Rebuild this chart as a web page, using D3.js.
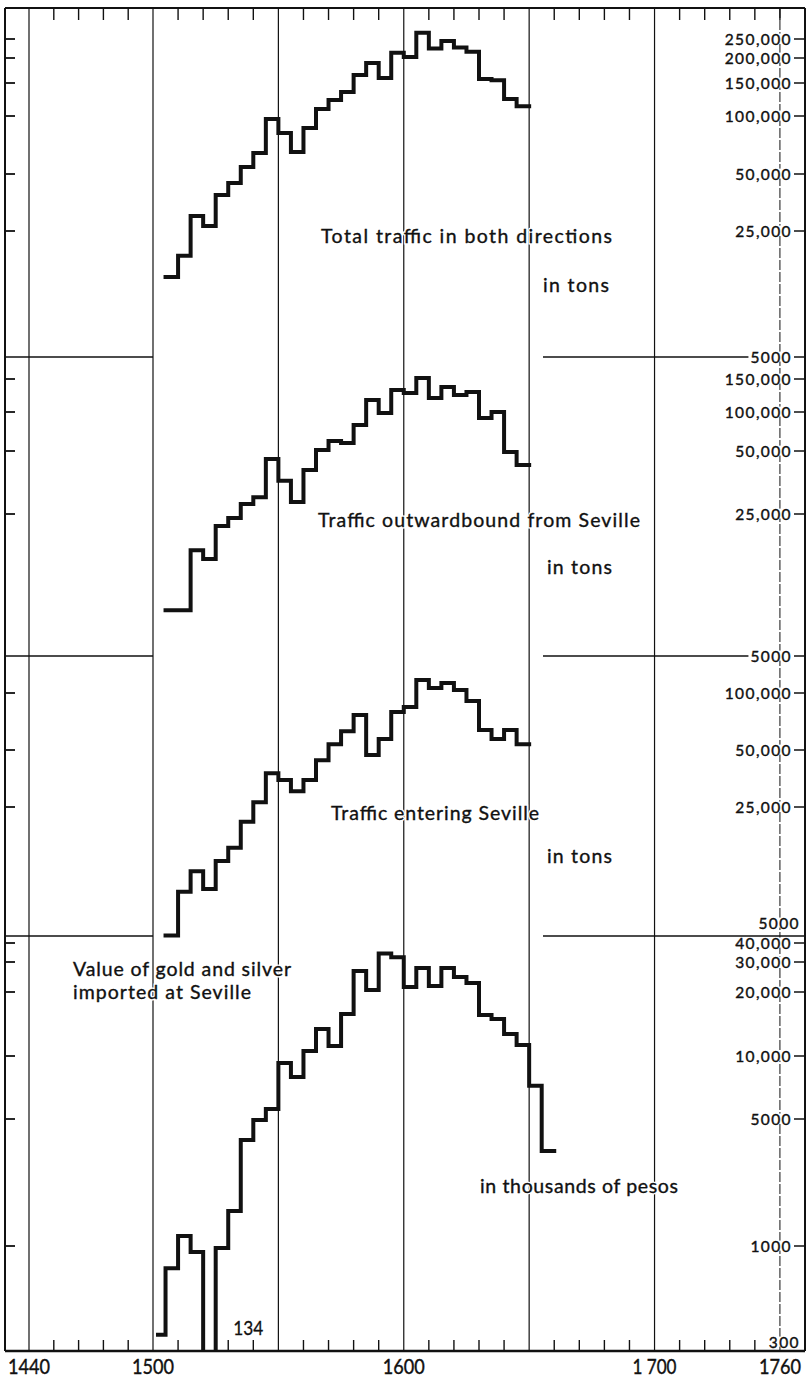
<!DOCTYPE html>
<html>
<head>
<meta charset="utf-8">
<script src="https://cdn.jsdelivr.net/npm/d3@7"></script>
<style>
  html, body { margin: 0; padding: 0; background: #fff; }
  svg { display: block; font-family: Lato, "Open Sans", "DejaVu Sans", sans-serif; }
</style>
</head>
<body>
<svg id="chart" width="809" height="1380"></svg>
<script>
// ---------------------------------------------------------------
// Seville Atlantic traffic (5-year periods) and bullion imports
// ---------------------------------------------------------------

// Start year of each 5-year traffic period; the series closes at trafficEnd
const trafficPeriods = [1505, 1510, 1515, 1520, 1525, 1530, 1535, 1540, 1545, 1550,
                        1555, 1560, 1565, 1570, 1575, 1580, 1585, 1590, 1595, 1600,
                        1605, 1610, 1615, 1620, 1625, 1630, 1635, 1640, 1645];
const trafficEnd = 1650;

// Tons, both directions
const totalTons = [13900, 18200, 30000, 26600, 38700, 44800, 54400, 64300, 96500, 81600,
                   65000, 86700, 109000, 121700, 134300, 164400, 188800, 158900, 212800, 202300,
                   269400, 223600, 243900, 226500, 215300, 157000, 155000, 123300, 112900];

// Tons, outward bound from Seville
const outboundTons = [8400, 8400, 16600, 15000, 21800, 23900, 27900, 30100, 45800, 36000,
                      28500, 40600, 50800, 59700, 57700, 79400, 115900, 98200, 130900, 126200,
                      151700, 118800, 135900, 123300, 127900, 89900, 100000, 49400, 42900];

// Tons, entering Seville
const inboundTons = [5100, 8750, 11300, 9070, 12800, 15100, 20800, 26500, 37700, 34700,
                     30300, 34700, 44200, 53700, 62900, 76500, 47000, 57100, 79300, 84300,
                     117200, 106300, 113000, 103700, 90700, 63700, 57100, 63700, 53700];

// Bullion periods (first one is 1503-1505), closing at bullionEnd
const bullionPeriods = [1502, 1505, 1510, 1515, 1520, 1525, 1530, 1535, 1540, 1545,
                        1550, 1555, 1560, 1565, 1570, 1575, 1580, 1585, 1590, 1595,
                        1600, 1605, 1610, 1615, 1620, 1625, 1630, 1635, 1640, 1645,
                        1650, 1655];
const bullionEnd = 1660;

// Thousands of pesos
const bullionPesos = [336, 760, 1135, 929, 134, 975, 1560, 3830, 4940, 5580,
                      9260, 7940, 10560, 13400, 11140, 15750, 26550, 20560, 34130, 32200,
                      21400, 27670, 21670, 27670, 24490, 22590, 15590, 14930, 12700, 11270,
                      7200, 3330];

// Axis ticks
const totalTicks    = [250000, 200000, 150000, 100000, 50000, 25000, 5000];
const outboundTicks = [150000, 100000, 50000, 25000, 5000];
const inboundTicks  = [100000, 50000, 25000, 5000];
const bullionTicks  = [40000, 30000, 20000, 10000, 5000, 1000, 300];

const gridYears   = [1440, 1500, 1550, 1600, 1650, 1700];
const dashedYears = [1750];
const minorYears  = [1452, 1464, 1476, 1488, 1510, 1520, 1530, 1540, 1560, 1570, 1580, 1590,
                     1610, 1620, 1630, 1640, 1660, 1670, 1680, 1690, 1710, 1720, 1730, 1740];
const yearLabelYears = [1440, 1500, 1600, 1700, 1760];
const yearLabelText  = ["1440", "1500", "1600", "1 700", "1760"];

// ---------------------------------------------------------------
// Layout
// ---------------------------------------------------------------
const frame = { left: 5, right: 805, top: 8, bottom: 1351 };
const ink = "#111";

// Time axis: the 1440-1500 stretch is compressed
const x = d3.scaleLinear().domain([1440, 1500, 1760]).range([29, 153, 805]);

const fmt = v => v >= 10000 ? d3.format(",")(v) : String(v);

// Each panel has its own logarithmic scale, pinned at the printed tick positions
const panels = [
  { values: totalTons, periods: trafficPeriods, end: trafficEnd, ticks: totalTicks,
    knots: [39, 58, 83, 116, 174, 231, 357], plainBottom: false },
  { values: outboundTons, periods: trafficPeriods, end: trafficEnd, ticks: outboundTicks,
    knots: [379, 412, 451, 514, 656], plainBottom: false },
  { values: inboundTons, periods: trafficPeriods, end: trafficEnd, ticks: inboundTicks,
    knots: [693, 750, 807, 937], plainBottom: true, bottomLabelY: 923 },
  { values: bullionPesos, periods: bullionPeriods, end: bullionEnd, ticks: bullionTicks,
    knots: [943, 962, 992, 1056, 1119, 1246, 1344], plainBottom: true, bottomLabelY: 1342 }
];

const separators = [
  { y: 357, x0: 543, x1: 752 },
  { y: 656, x0: 543, x1: 752 },
  { y: 936, x0: 543, x1: 805 }
];

const titles = [
  { text: "Total traffic in both directions",   x: 321, y: 243,  w: 291 },
  { text: "in tons",                             x: 543, y: 292,  w: 66 },
  { text: "Traffic outwardbound from Seville",  x: 318, y: 527,  w: 322 },
  { text: "in tons",                             x: 547, y: 574,  w: 65 },
  { text: "Traffic entering Seville",           x: 331, y: 820,  w: 208 },
  { text: "in tons",                             x: 547, y: 863,  w: 65 },
  { text: "Value of gold and silver",           x: 73,  y: 976,  w: 218 },
  { text: "imported at Seville",                x: 73,  y: 999,  w: 178 },
  { text: "in thousands of pesos",              x: 480, y: 1193, w: 198 }
];

// ---------------------------------------------------------------
// Drawing
// ---------------------------------------------------------------
const svg = d3.select("#chart");

svg.append("defs").append("clipPath").attr("id", "plotClip")
  .append("rect").attr("x", 0).attr("y", 0).attr("width", 809).attr("height", frame.bottom);

// Vertical grid
const grid = svg.append("g");
grid.selectAll("line.major").data(gridYears).join("line")
  .attr("class", "major")
  .attr("x1", d => x(d)).attr("x2", d => x(d))
  .attr("y1", frame.top).attr("y2", frame.bottom)
  .attr("stroke", ink).attr("stroke-width", 1.2);
grid.selectAll("line.dashed").data(dashedYears).join("line")
  .attr("class", "dashed")
  .attr("x1", d => x(d)).attr("x2", d => x(d))
  .attr("y1", frame.top).attr("y2", frame.bottom)
  .attr("stroke", ink).attr("stroke-width", 1)
  .attr("stroke-dasharray", "10 2");

// Decade ticks on top and bottom edges
grid.selectAll("line.topTick").data(minorYears.concat(dashedYears)).join("line")
  .attr("class", "topTick")
  .attr("x1", d => x(d)).attr("x2", d => x(d))
  .attr("y1", frame.top).attr("y2", frame.top + 12)
  .attr("stroke", ink).attr("stroke-width", 1.4);
grid.selectAll("line.botTick").data(minorYears).join("line")
  .attr("class", "botTick")
  .attr("x1", d => x(d)).attr("x2", d => x(d))
  .attr("y1", frame.bottom).attr("y2", frame.bottom - 11)
  .attr("stroke", ink).attr("stroke-width", 1.4);

// Panel separators
separators.forEach(s => {
  grid.append("line").attr("x1", frame.left).attr("x2", x(1500))
    .attr("y1", s.y).attr("y2", s.y).attr("stroke", ink).attr("stroke-width", 1.5);
  grid.append("line").attr("x1", s.x0).attr("x2", s.x1)
    .attr("y1", s.y).attr("y2", s.y).attr("stroke", ink).attr("stroke-width", 1.5);
});

// Outer frame
const frameG = svg.append("g").attr("stroke", ink).attr("fill", "none");
frameG.append("line").attr("x1", frame.left).attr("x2", frame.right)
  .attr("y1", frame.top).attr("y2", frame.top).attr("stroke-width", 2);
frameG.append("line").attr("x1", frame.left).attr("x2", frame.left)
  .attr("y1", frame.top).attr("y2", frame.bottom).attr("stroke-width", 2);
frameG.append("line").attr("x1", frame.right).attr("x2", frame.right)
  .attr("y1", frame.top).attr("y2", frame.bottom).attr("stroke-width", 2);

// Panels: axes and step lines
const labelsG = svg.append("g");
const linesG = svg.append("g").attr("clip-path", "url(#plotClip)");

panels.forEach(p => {
  const y = d3.scaleLog().domain(p.ticks).range(p.knots);
  const lastIdx = p.ticks.length - 1;

  p.ticks.forEach((t, i) => {
    const isPlain = p.plainBottom && i === lastIdx;
    const ty = y(t);
    const lg = labelsG.append("g");
    const txt = lg.append("text")
      .attr("x", isPlain ? frame.right - 5 : frame.right - 13)
      .attr("y", isPlain ? p.bottomLabelY : ty)
      .attr("dy", "0.36em")
      .attr("text-anchor", "end")
      .attr("font-size", 15.5)
      .attr("letter-spacing", 1.4)
      .attr("fill", ink)
      .attr("stroke", ink).attr("stroke-width", 0.4)
      .text(fmt(t));
    const bb = txt.node().getBBox();
    lg.insert("rect", "text")
      .attr("x", bb.x - 2).attr("y", bb.y + 4)
      .attr("width", bb.width + 3).attr("height", bb.height - 8)
      .attr("fill", "#fff");
    if (!isPlain) {
      // right-hand tick and matching left-edge tick
      labelsG.append("line").attr("x1", frame.right - 11).attr("x2", frame.right)
        .attr("y1", ty).attr("y2", ty).attr("stroke", ink).attr("stroke-width", 1.5);
      if (i !== lastIdx) {
        labelsG.append("line").attr("x1", frame.left).attr("x2", frame.left + 10)
          .attr("y1", ty).attr("y2", ty).attr("stroke", ink).attr("stroke-width", 1.8);
      }
    }
  });

  const pts = p.periods.map((yr, i) => [yr, p.values[i]]);
  pts.push([p.end, p.values[p.values.length - 1]]);
  const line = d3.line()
    .x(d => x(d[0]))
    .y(d => y(d[1]))
    .curve(d3.curveStepAfter);
  linesG.append("path")
    .attr("d", line(pts))
    .attr("fill", "none")
    .attr("stroke", ink)
    .attr("stroke-width", 4)
    .attr("stroke-linejoin", "miter")
    .attr("stroke-linecap", "square");
});

// Bottom axis line
svg.append("line").attr("x1", frame.left).attr("x2", frame.right)
  .attr("y1", frame.bottom).attr("y2", frame.bottom)
  .attr("stroke", ink).attr("stroke-width", 2.4);

// Off-scale bullion value for 1521-1525, written as a number
const offIdx = bullionPesos.findIndex(v => v < bullionTicks[bullionTicks.length - 1]);
svg.append("text")
  .attr("x", x(bullionPeriods[offIdx]) + 30)
  .attr("y", 1335)
  .attr("font-size", 19)
  .attr("fill", ink)
  .attr("stroke", ink).attr("stroke-width", 0.3)
  .attr("textLength", 30)
  .attr("lengthAdjust", "spacingAndGlyphs")
  .text(String(bullionPesos[offIdx]));

// Panel titles and units: a white halo copy underneath, then the ink copy
const titleG = svg.append("g");
["halo", "ink"].forEach(layer => {
  titleG.append("g").selectAll("text").data(titles).join("text")
    .attr("x", d => d.x).attr("y", d => d.y)
    .attr("font-size", 19.5)
    .attr("fill", layer === "ink" ? ink : "#fff")
    .attr("stroke", layer === "ink" ? ink : "#fff")
    .attr("stroke-width", layer === "ink" ? 0.35 : 3)
    .attr("textLength", d => d.w)
    .attr("lengthAdjust", "spacing")
    .text(d => d.text);
});

// Year labels
svg.append("g").selectAll("text").data(yearLabelYears).join("text")
  .attr("x", (d, i) => i === yearLabelYears.length - 1 ? x(d) - 4 : x(d))
  .attr("y", 1374)
  .attr("text-anchor", (d, i) => i === yearLabelYears.length - 1 ? "end" : "middle")
  .attr("font-size", 21)
  .attr("fill", ink)
  .attr("stroke", ink).attr("stroke-width", 0.4)
  .attr("textLength", (d, i) => yearLabelText[i].length > 4 ? 44 : 42)
  .attr("lengthAdjust", "spacingAndGlyphs")
  .text((d, i) => yearLabelText[i]);
</script>
</body>
</html>
